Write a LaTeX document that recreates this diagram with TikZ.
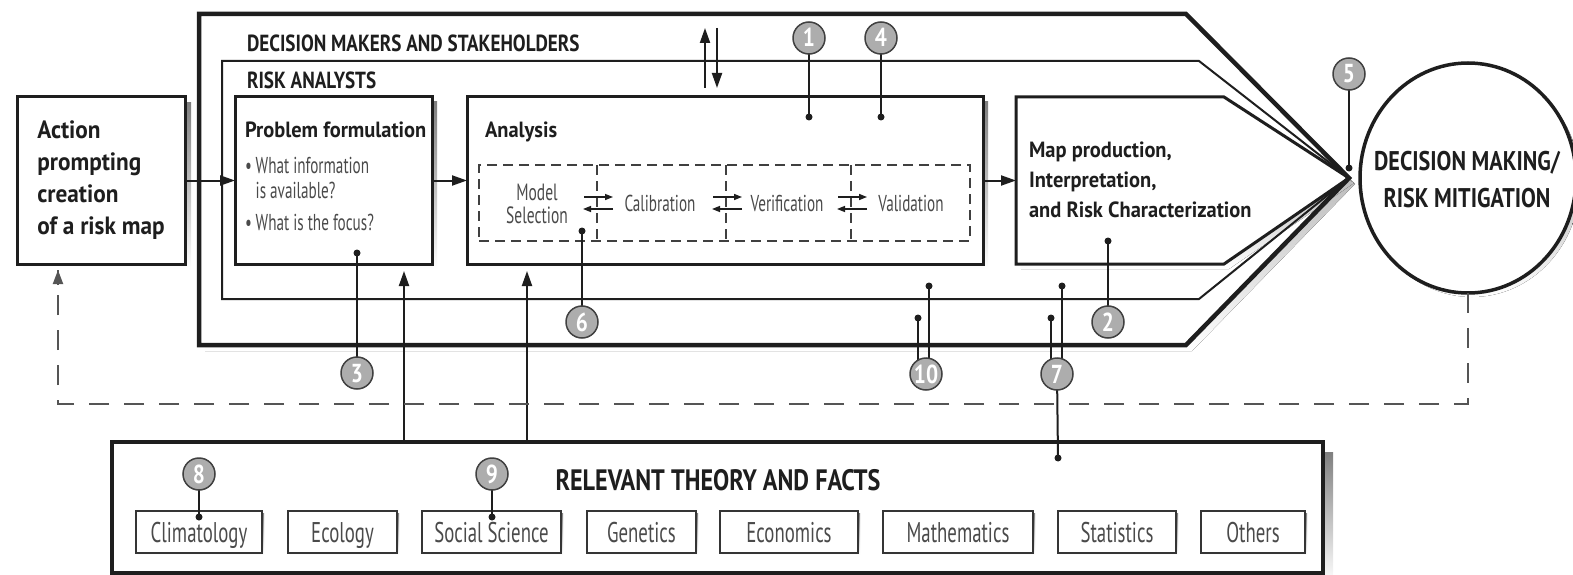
\documentclass[tikz,border=0pt]{standalone}
\usepackage{fontspec}
\setmainfont{PT Sans}
\newfontfamily\bfc{PT Sans}[FakeStretch=0.82]
\newfontfamily\bfl{PT Sans}[FakeStretch=0.93]
\newfontfamily\lfc{PT Sans}[FakeStretch=0.66]
\usetikzlibrary{shapes.geometric,arrows.meta,calc}
\definecolor{ink}{HTML}{1E1E1E}
\definecolor{shade}{HTML}{C4C4C4}
\definecolor{pinfill}{HTML}{ADADAD}
\definecolor{soft}{HTML}{4A4A4A}
\definecolor{fbgray}{HTML}{555555}
\pgfdeclarelayer{bg}\pgfdeclarelayer{fg}\pgfsetlayers{bg,main,fg}
\newcommand\castshade[2]{\fill[shade] ($(#1.north west)+(#2,#2)$) rectangle ($(#1.south east)+(#2,#2)$);
  \fill[white] (#1.north west) rectangle (#1.south east);}
\begin{document}
\begin{tikzpicture}[x=1pt,y=-1pt,
 every node/.style={inner sep=0pt,outer sep=0pt,text=ink},
 box/.style={draw=ink,line width=3pt},
 subj/.style={draw=ink!90,line width=1.8pt,minimum height=42pt,text height=20pt,text depth=0pt,font=\lfc\fontsize{28.5}{28.5}\selectfont,text=soft},
 pinc/.style={circle,fill=pinfill,draw=ink!85,line width=1.5pt,minimum size=32pt,text=white,font=\bfc\bfseries\fontsize{26}{26}\selectfont,text height=18pt,text depth=0pt},
 dotn/.style={circle,fill=ink,minimum size=7pt},
 pinl/.style={draw=ink,line width=2pt},
 arr/.style={draw=ink,line width=2pt,-{Triangle[length=15pt,width=10pt]}},
 sarr/.style={draw=ink,line width=1.4pt,-{Triangle[length=8pt,width=6pt]}},
 dsh/.style={draw=ink!85,line width=2pt,dash pattern=on 10pt off 6pt},
 fb/.style={draw=fbgray,line width=2.2pt,dash pattern=on 20pt off 15pt},
 ttl/.style={font=\bfc\bfseries\fontsize{23.3}{28}\selectfont},
 hd/.style={font=\bfl\bfseries\fontsize{22}{26}\selectfont},
 lt/.style={font=\lfc\fontsize{23}{23}\selectfont,text=soft},
]
\useasboundingbox (0,0) rectangle (1573,575);

% big pentagons
\draw[draw=ink,line width=4.5pt] (199,14) -- (1186,14) -- (1349,178) -- (1186,345) -- (199,345) -- cycle;
\draw[draw=ink,line width=2pt] (222,61) -- (1199,61) -- (1349,178) -- (1199,299) -- (222,299) -- cycle;
\draw[draw=ink,line width=3pt] (1016,97) -- (1224,97) -- (1349,178) -- (1224,264) -- (1016,264) -- cycle;
\coordinate (mapW) at (1016,180.5);

\node[ttl,anchor=base west] (dmlab) at (247,52) {DECISION MAKERS AND STAKEHOLDERS};
\node[ttl,anchor=base west] (ralab) at (247,89) {RISK ANALYSTS};

% boxes
\node[box,minimum width=168pt,minimum height=167pt,align=left,font=\bfl\bfseries\fontsize{25}{32}\selectfont] (act) at (101,180.5) {Action\\prompting\\creation\\of a risk map};
\node[box,minimum width=197pt,minimum height=167pt] (prob) at (333.5,180.5) {};
\node[box,minimum width=516pt,minimum height=167pt] (ana) at (725,180.5) {};
\node[hd,anchor=base west] (pft) at (245,138) {Problem formulation};
\node[anchor=west,align=left,font=\lfc\fontsize{23}{25}\selectfont,text=soft] (pfq) at (245,194) {\textbullet\,What information\\\phantom{\textbullet\,}is available?\\[7pt]\textbullet\,What is the focus?};
\node[hd,anchor=base west] (anat) at (485,138) {Analysis};
\node[anchor=west,align=left,font=\bfl\bfseries\fontsize{22}{30}\selectfont] (mapt) at (1029,179.5) {Map production,\\Interpretation,\\and Risk Characterization};

% dashed inner box
\node[dsh,minimum width=491pt,minimum height=76pt] (dbox) at (724.5,203) {};
\coordinate (v1) at (597,203);
\coordinate (v2) at (726,203);
\coordinate (v3) at (851,203);
\foreach \v in {v1,v2,v3}{
  \draw[dsh] (dbox.north -| \v) -- (dbox.south -| \v);
  \draw[sarr] ($(\v)+(-13,-6)$) -- ($(\v)+(16,-6)$);
  \draw[sarr] ($(\v)+(16,6)$) -- ($(\v)+(-14,6)$);
}
\node[lt,align=center,font=\lfc\fontsize{23.5}{23}\selectfont] (msel) at (537,204) {Model\\Selection};
\node[lt,anchor=base] (cal) at (660,211) {Calibration};
\node[lt,anchor=base] (ver) at (787,211) {Verification};
\node[lt,anchor=base] (val) at (911,211) {Validation};

% decision circle
\node[ellipse,draw=ink,line width=3.5pt,minimum width=216pt,minimum height=230pt] (dm) at (1468,178) {};
\node[align=center,font=\bfc\bfseries\fontsize{27}{37}\selectfont] (dmt) at (1467,180) {DECISION MAKING/\\RISK MITIGATION};

% bottom box
\node[draw=ink,line width=4pt,minimum width=1211pt,minimum height=131pt] (rt) at (717.5,507.5) {};
\node[anchor=base,font=\bfc\bfseries\fontsize{29.5}{30}\selectfont] (rtt) at (718,490) {RELEVANT THEORY AND FACTS};
\node[subj,minimum width=126pt] (s1) at (199,532) {Climatology};
\node[subj,minimum width=109pt] (s2) at (342.5,532) {Ecology};
\node[subj,minimum width=139pt] (s3) at (491.5,532) {Social Science};
\node[subj,minimum width=109pt] (s4) at (641.5,532) {Genetics};
\node[subj,minimum width=138pt] (s5) at (789,532) {Economics};
\node[subj,minimum width=150pt] (s6) at (958,532) {Mathematics};
\node[subj,minimum width=118pt] (s7) at (1117,532) {Statistics};
\node[subj,minimum width=104pt] (s8) at (1253,532) {Others};

% shadows
\begin{pgfonlayer}{bg}
\fill[shade] (205,20) -- (1192,20) -- (1355,184) -- (1192,351) -- (205,351) -- cycle;
\fill[white] (199,14) -- (1186,14) -- (1349,178) -- (1186,345) -- (199,345) -- cycle;
\fill[shade] (1021,102) -- (1229,102) -- (1354,183) -- (1229,269) -- (1021,269) -- cycle;
\fill[white] (1016,97) -- (1224,97) -- (1349,178) -- (1224,264) -- (1016,264) -- cycle;
\castshade{act}{6}
\castshade{prob}{5}
\castshade{ana}{5}
\castshade{rt}{10}
\foreach \s in {s1,s2,s3,s4,s5,s6,s7,s8}{\castshade{\s}{2}}
\fill[shade] ($(dm.center)+(4,4)$) ellipse [x radius=108pt, y radius=115pt];
\fill[white] (dm.center) ellipse [x radius=108pt, y radius=115pt];
\end{pgfonlayer}

% pins
\begin{pgfonlayer}{fg}
\node[pinc] (p1) at (809,38) {1};
\node[pinc] (p4) at (881,38) {4};
\node[pinc] (p5) at (1349,74) {5};
\node[pinc] (p6) at (582,322) {6};
\node[pinc] (p2) at (1108,322) {2};
\node[pinc] (p3) at (357,373) {3};
\node[pinc] (p10) at (926,374) {10};
\node[pinc] (p7) at (1057,374) {7};
\node[pinc] (p8) at (199,474) {8};
\node[pinc] (p9) at (492,474) {9};
\node[dotn] (d1) at (809,117) {};
\node[dotn] (d4) at (881,117) {};
\node[dotn] (d5) at (1349,168) {};
\node[dotn] (d6) at (582,231) {};
\node[dotn] (d2) at (1108,241) {};
\node[dotn] (d3) at (357,253) {};
\node[dotn] (d10a) at (918,318) {};
\node[dotn] (d10b) at (929,286) {};
\node[dotn] (d7a) at (1051,318) {};
\node[dotn] (d7b) at (1062,286) {};
\node[dotn] (d7c) at (1058,458) {};
\node[dotn] (d8) at (199,517) {};
\node[dotn] (d9) at (492,517) {};
\end{pgfonlayer}

\foreach \a/\b in {p1/d1,p4/d4,p5/d5,p6/d6,p2/d2,p3/d3,p8/d8,p9/d9}{\draw[pinl] (\a.center) -- (\b.center);}
\draw[pinl] (d10a.center) -- (d10a |- p10.center);
\draw[pinl] (d10b.center) -- (d10b |- p10.center);
\draw[pinl] (d7a.center) -- (d7a |- p7.center);
\draw[pinl] (d7b.center) -- (d7b |- p7.center);
\draw[pinl] (p7.center) -- (d7c.center);

% flow arrows
\draw[arr] (act.east) -- (prob.west);
\draw[arr] (prob.east) -- (ana.west);
\draw[arr] (ana.east) -- (mapW);
\coordinate (u1) at (404,271);
\coordinate (u2) at (527,271);
\draw[arr] (rt.north -| u1) -- (u1);
\draw[arr] (rt.north -| u2) -- (u2);
\coordinate (ua0) at (705,88);
\coordinate (ua1) at (705,28);
\coordinate (ub0) at (717,28);
\coordinate (ub1) at (717,88);
\draw[arr] (ua0) -- (ua1);
\draw[arr] (ub0) -- (ub1);

% feedback
\coordinate (fbL) at (58,404);
\draw[fb] (dm.south) |- (fbL) -- ($(fbL |- act.south)+(0,6)$);
\draw[draw=fbgray,line width=2pt,-{Triangle[length=14pt,width=10pt]}] ($(fbL |- act.south)+(0,20)$) -- ($(fbL |- act.south)+(0,6)$);
\end{tikzpicture}
\end{document}
